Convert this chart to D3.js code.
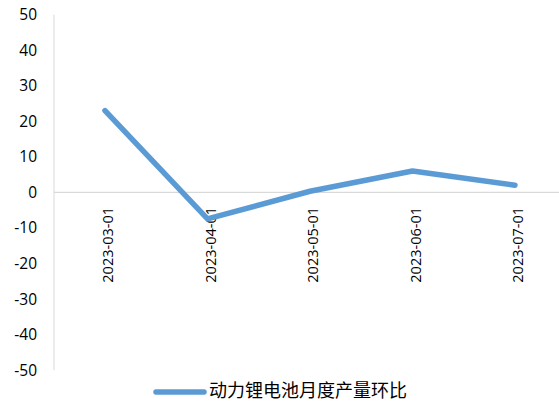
<!DOCTYPE html>
<html>
<head>
<meta charset="utf-8">
<script src="https://cdn.jsdelivr.net/npm/d3@7"></script>
<style>
body{margin:0;background:#fff}
svg{display:block}
</style>
</head>
<body>
<svg id="chart"></svg>
<script>
// data
var dates = ["2023-03-01","2023-04-01","2023-05-01","2023-06-01","2023-07-01"]
var values = [23, -7.5, 0.3, 6, 2]
var yTicks = [50,40,30,20,10,0,-10,-20,-30,-40,-50]
var seriesName = "动力锂电池月度产量环比"

var screen = {width:559,height:402}
var margins = {left:54,top:14.6}

var svg = d3.select("#chart")
    .attr("width",screen.width)
    .attr("height",screen.height)

var xScale = d3.scaleBand()
    .domain(dates)
    .range([53.75,566.25])

var yScale = d3.scaleLinear()
    .domain([-50,50])
    .range([370,14.6])

var gray = "#d9d9d9"
var blue = "#5b9bd5"
var tickFont = "'Open Sans','Liberation Sans',sans-serif"

// y axis line
svg.append("line")
    .attr("x1",margins.left).attr("x2",margins.left)
    .attr("y1",yScale(50)).attr("y2",yScale(-50))
    .attr("stroke",gray).attr("stroke-width",1)

// zero line
svg.append("line")
    .attr("x1",margins.left).attr("x2",screen.width)
    .attr("y1",yScale(0)).attr("y2",yScale(0))
    .attr("stroke",gray).attr("stroke-width",1.3)

// y tick labels
svg.append("g")
    .selectAll("text")
    .data(yTicks)
    .enter()
    .append("text")
    .attr("x",37)
    .attr("y",function(d){ return yScale(d) })
    .attr("dy","0.36em")
    .attr("text-anchor","end")
    .attr("font-family",tickFont)
    .attr("font-size","15.5px")
    .attr("fill","#000")
    .text(function(d){ return d })

// x labels, rotated
svg.append("g")
    .selectAll("text")
    .data(dates)
    .enter()
    .append("text")
    .attr("transform",function(d){
        return "translate("+(xScale(d)+xScale.bandwidth()/2+3)+",207) rotate(-90)"
    })
    .attr("dy","0.36em")
    .attr("text-anchor","end")
    .attr("font-family",tickFont)
    .attr("font-size","14.5px")
    .attr("fill","#000")
    .text(function(d){ return d })

// the line
var line = d3.line()
    .x(function(d,i){ return xScale(dates[i])+xScale.bandwidth()/2 })
    .y(function(d){ return yScale(d) })

svg.append("path")
    .datum(values)
    .attr("d",line)
    .attr("fill","none")
    .attr("stroke",blue)
    .attr("stroke-width",5.5)
    .attr("stroke-linecap","round")
    .attr("stroke-linejoin","round")

// legend
var legend = svg.append("g")
legend.append("line")
    .attr("x1",156).attr("x2",204)
    .attr("y1",392).attr("y2",392)
    .attr("stroke",blue)
    .attr("stroke-width",5.5)
    .attr("stroke-linecap","round")
legend.append("text")
    .attr("x",209)
    .attr("y",391)
    .attr("dy","0.36em")
    .attr("font-family","'Noto Sans CJK SC',sans-serif")
    .attr("font-size","18px")
    .attr("fill","#000")
    .text(seriesName)
</script>
</body>
</html>
